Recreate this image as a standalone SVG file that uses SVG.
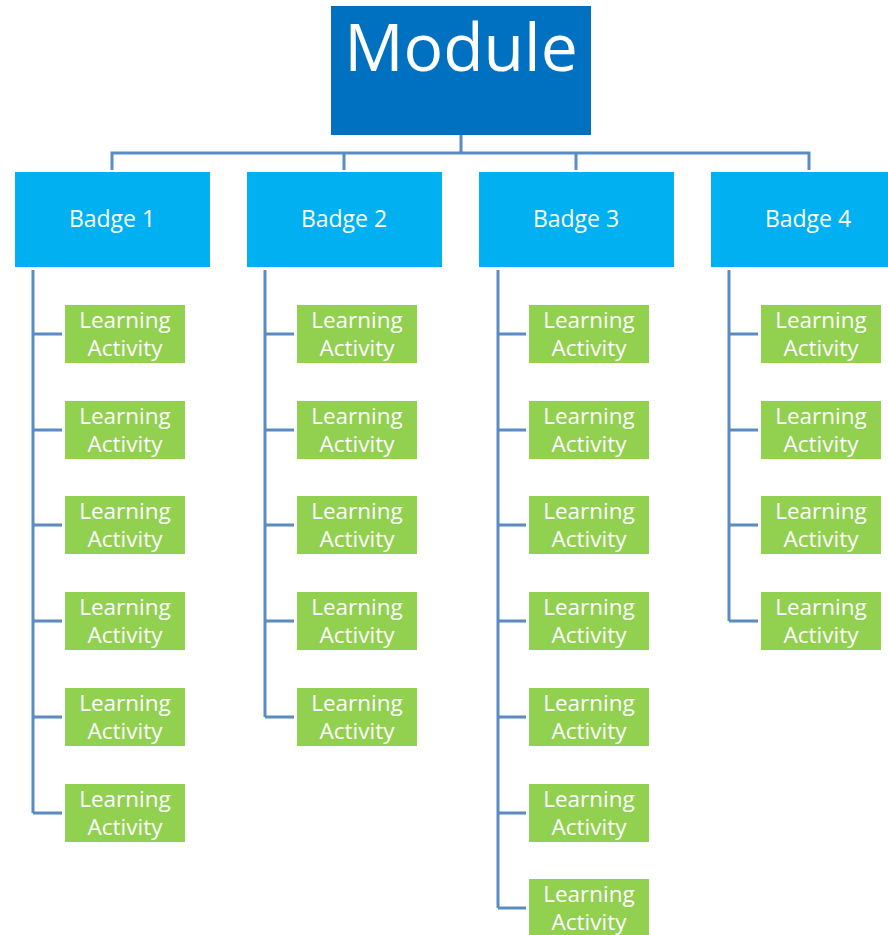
<svg xmlns="http://www.w3.org/2000/svg" width="888" height="935" viewBox="0 0 888 935">
<style>
text{font-family:"Open Sans","Noto Sans","Liberation Sans",sans-serif;fill:#fff;text-anchor:middle}
.mod{fill:#0070C0}
.mt{font-size:66px}
.badge{fill:#00B0F0}
.bt{font-size:23px}
.la{fill:#92D050}
.lt{font-size:22.5px}
.conn{fill:none;stroke:#5B8BC3;stroke-width:3}
</style>
<rect x="0" y="0" width="888" height="935" fill="#fff"/>
<g id="connectors" class="conn">
<path d="M461 135V153M112 170V153H809V170M344 153V170M576 153V170"/>
<path d="M33 270V813M33 334H62M33 430H62M33 525H62M33 621H62M33 717H62M33 813H62"/>
<path d="M265 270V717M265 334H294M265 430H294M265 525H294M265 621H294M265 717H294"/>
<path d="M498 270V908M498 334H526M498 430H526M498 525H526M498 621H526M498 717H526M498 813H526M498 908H526"/>
<path d="M729 270V621M729 334H758M729 430H758M729 525H758M729 621H758"/>
</g>
<g id="module"><rect class="mod" x="331" y="6" width="260" height="129"/><text class="mt" x="461" y="71">Module</text></g>
<g id="badge1"><rect class="badge" x="15" y="172" width="195" height="95"/><text class="bt" x="112" y="227">Badge 1</text></g>
<g id="badge2"><rect class="badge" x="247" y="172" width="195" height="95"/><text class="bt" x="344" y="227">Badge 2</text></g>
<g id="badge3"><rect class="badge" x="479" y="172" width="195" height="95"/><text class="bt" x="576" y="227">Badge 3</text></g>
<g id="badge4"><rect class="badge" x="711" y="172" width="177" height="95"/><text class="bt" x="808" y="227">Badge 4</text></g>
<g id="b1-la1"><rect class="la" x="65" y="305" width="120" height="58"/><text class="lt" x="125" y="328">Learning</text><text class="lt" x="125" y="356">Activity</text></g>
<g id="b1-la2"><rect class="la" x="65" y="401" width="120" height="58"/><text class="lt" x="125" y="424">Learning</text><text class="lt" x="125" y="452">Activity</text></g>
<g id="b1-la3"><rect class="la" x="65" y="496" width="120" height="58"/><text class="lt" x="125" y="519">Learning</text><text class="lt" x="125" y="547">Activity</text></g>
<g id="b1-la4"><rect class="la" x="65" y="592" width="120" height="58"/><text class="lt" x="125" y="615">Learning</text><text class="lt" x="125" y="643">Activity</text></g>
<g id="b1-la5"><rect class="la" x="65" y="688" width="120" height="58"/><text class="lt" x="125" y="711">Learning</text><text class="lt" x="125" y="739">Activity</text></g>
<g id="b1-la6"><rect class="la" x="65" y="784" width="120" height="58"/><text class="lt" x="125" y="807">Learning</text><text class="lt" x="125" y="835">Activity</text></g>
<g id="b2-la1"><rect class="la" x="297" y="305" width="120" height="58"/><text class="lt" x="357" y="328">Learning</text><text class="lt" x="357" y="356">Activity</text></g>
<g id="b2-la2"><rect class="la" x="297" y="401" width="120" height="58"/><text class="lt" x="357" y="424">Learning</text><text class="lt" x="357" y="452">Activity</text></g>
<g id="b2-la3"><rect class="la" x="297" y="496" width="120" height="58"/><text class="lt" x="357" y="519">Learning</text><text class="lt" x="357" y="547">Activity</text></g>
<g id="b2-la4"><rect class="la" x="297" y="592" width="120" height="58"/><text class="lt" x="357" y="615">Learning</text><text class="lt" x="357" y="643">Activity</text></g>
<g id="b2-la5"><rect class="la" x="297" y="688" width="120" height="58"/><text class="lt" x="357" y="711">Learning</text><text class="lt" x="357" y="739">Activity</text></g>
<g id="b3-la1"><rect class="la" x="529" y="305" width="120" height="58"/><text class="lt" x="589" y="328">Learning</text><text class="lt" x="589" y="356">Activity</text></g>
<g id="b3-la2"><rect class="la" x="529" y="401" width="120" height="58"/><text class="lt" x="589" y="424">Learning</text><text class="lt" x="589" y="452">Activity</text></g>
<g id="b3-la3"><rect class="la" x="529" y="496" width="120" height="58"/><text class="lt" x="589" y="519">Learning</text><text class="lt" x="589" y="547">Activity</text></g>
<g id="b3-la4"><rect class="la" x="529" y="592" width="120" height="58"/><text class="lt" x="589" y="615">Learning</text><text class="lt" x="589" y="643">Activity</text></g>
<g id="b3-la5"><rect class="la" x="529" y="688" width="120" height="58"/><text class="lt" x="589" y="711">Learning</text><text class="lt" x="589" y="739">Activity</text></g>
<g id="b3-la6"><rect class="la" x="529" y="784" width="120" height="58"/><text class="lt" x="589" y="807">Learning</text><text class="lt" x="589" y="835">Activity</text></g>
<g id="b3-la7"><rect class="la" x="529" y="879" width="120" height="58"/><text class="lt" x="589" y="902">Learning</text><text class="lt" x="589" y="930">Activity</text></g>
<g id="b4-la1"><rect class="la" x="761" y="305" width="120" height="58"/><text class="lt" x="821" y="328">Learning</text><text class="lt" x="821" y="356">Activity</text></g>
<g id="b4-la2"><rect class="la" x="761" y="401" width="120" height="58"/><text class="lt" x="821" y="424">Learning</text><text class="lt" x="821" y="452">Activity</text></g>
<g id="b4-la3"><rect class="la" x="761" y="496" width="120" height="58"/><text class="lt" x="821" y="519">Learning</text><text class="lt" x="821" y="547">Activity</text></g>
<g id="b4-la4"><rect class="la" x="761" y="592" width="120" height="58"/><text class="lt" x="821" y="615">Learning</text><text class="lt" x="821" y="643">Activity</text></g>
</svg>
